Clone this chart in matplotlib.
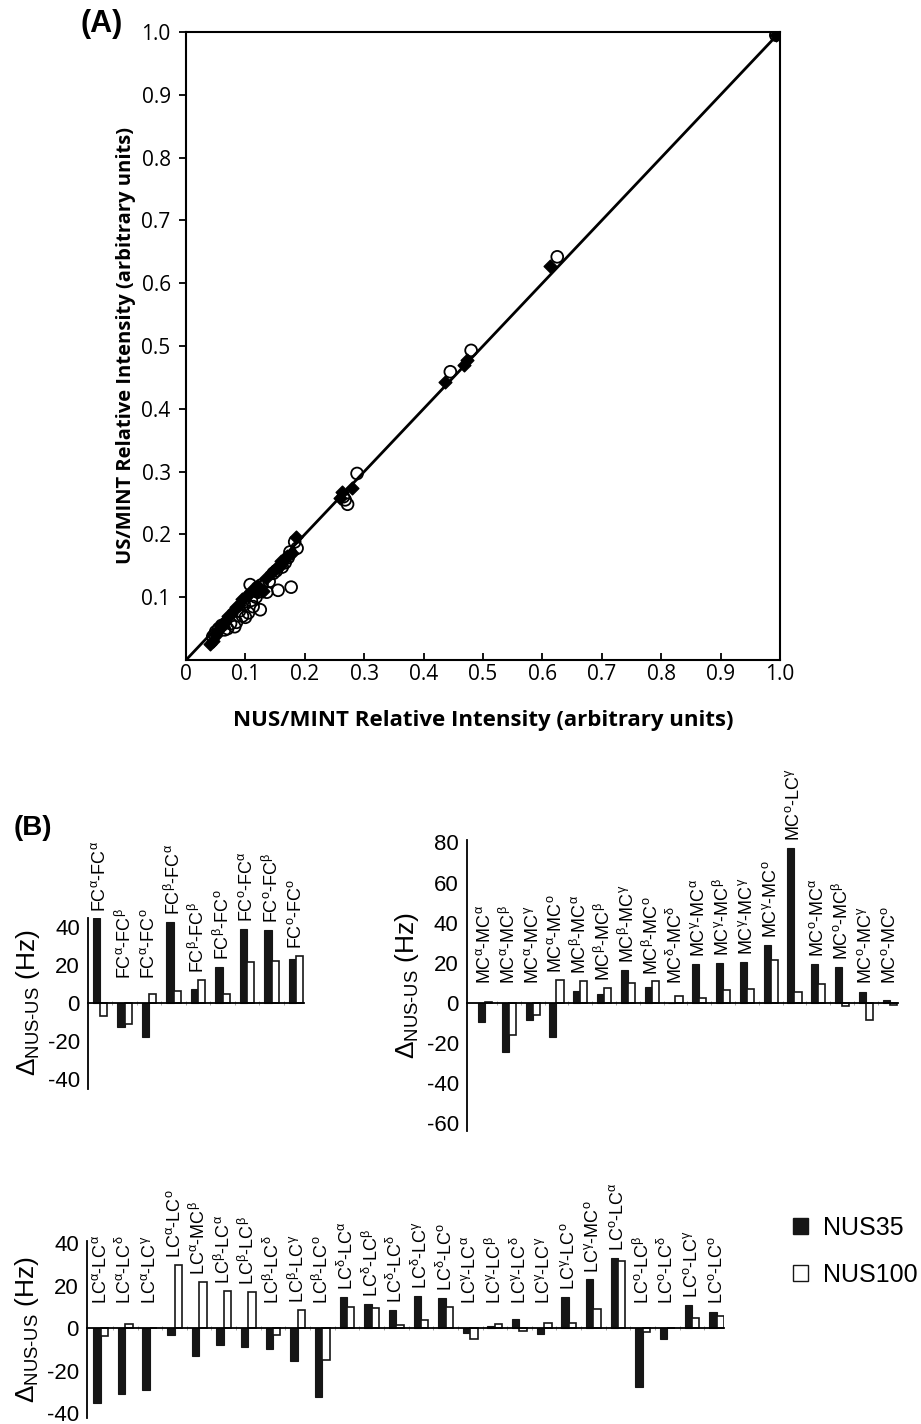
import matplotlib
matplotlib.use("Agg")
import matplotlib.pyplot as plt
from matplotlib.patches import Patch

plt.rcParams["mathtext.fontset"] = "custom"
plt.rcParams["mathtext.rm"] = "Liberation Sans"
plt.rcParams["mathtext.it"] = "Liberation Sans:italic"
plt.rcParams["mathtext.bf"] = "Liberation Sans:bold"

# ---------------- Panel A: relative intensities ----------------
# NUS35 (filled diamonds): NUS/MINT vs US/MINT
nus35_x = [0.993, 0.612, 0.473, 0.468, 0.436, 0.279, 0.263, 0.260, 0.185, 0.178,
           0.170, 0.165, 0.160, 0.158, 0.150, 0.145, 0.135, 0.130, 0.120, 0.120,
           0.115, 0.110, 0.105, 0.100, 0.095, 0.090, 0.085, 0.080, 0.075, 0.070,
           0.065, 0.060, 0.055, 0.050, 0.045, 0.040]
nus35_y = [0.995, 0.628, 0.477, 0.470, 0.443, 0.274, 0.268, 0.258, 0.196, 0.170,
           0.165, 0.160, 0.157, 0.150, 0.145, 0.140, 0.130, 0.110, 0.118, 0.108,
           0.112, 0.110, 0.104, 0.100, 0.097, 0.088, 0.085, 0.080, 0.074, 0.070,
           0.062, 0.058, 0.050, 0.040, 0.030, 0.025]
# NUS100 (open circles)
nus100_x = [0.993, 0.625, 0.480, 0.445, 0.288, 0.272, 0.268, 0.265, 0.187, 0.183,
            0.175, 0.172, 0.167, 0.162, 0.177, 0.155, 0.152, 0.147, 0.140, 0.136,
            0.128, 0.121, 0.120, 0.118, 0.113, 0.125, 0.110, 0.108, 0.105, 0.100,
            0.098, 0.095, 0.090, 0.085, 0.082, 0.075, 0.070, 0.065, 0.060, 0.055,
            0.050, 0.048, 0.045]
nus100_y = [0.995, 0.642, 0.493, 0.459, 0.297, 0.248, 0.255, 0.260, 0.178, 0.188,
            0.172, 0.163, 0.155, 0.148, 0.116, 0.111, 0.142, 0.138, 0.125, 0.108,
            0.120, 0.108, 0.115, 0.100, 0.085, 0.080, 0.095, 0.120, 0.075, 0.068,
            0.088, 0.070, 0.078, 0.060, 0.053, 0.058, 0.050, 0.048, 0.055, 0.050,
            0.045, 0.040, 0.037]

a_ticks = [0.0, 0.1, 0.2, 0.3, 0.4, 0.5, 0.6, 0.7, 0.8, 0.9, 1.0]
a_ticklabels = ["0", "0.1", "0.2", "0.3", "0.4", "0.5", "0.6", "0.7", "0.8", "0.9", "1.0"]

# ---------------- Panel B: frequency differences (Hz) ----------------
fc_pairs = ["FCα-FCα", "FCα-FCβ", "FCα-FCo", "FCβ-FCα", "FCβ-FCβ", "FCβ-FCo",
            "FCo-FCα", "FCo-FCβ", "FCo-FCo"]
fc_nus35 = [44.5, -12.5, -18, 42.5, 7.5, 19, 39, 38.5, 23]
fc_nus100 = [-7, -11, 4.5, 6.5, 12, 4.7, 21.4, 22, 25]

mc_pairs = ["MCα-MCα", "MCα-MCβ", "MCα-MCγ", "MCα-MCo", "MCβ-MCα", "MCβ-MCβ",
            "MCβ-MCγ", "MCβ-MCo", "MCδ-MCδ", "MCγ-MCα", "MCγ-MCβ", "MCγ-MCγ",
            "MCγ-MCo", "MCo-LCγ", "MCo-MCα", "MCo-MCβ", "MCo-MCγ", "MCo-MCo"]
mc_nus35 = [-9.3, -24.5, -8.5, -17, 6, 4.5, 16.6, 7.8, 0, 19.2, 20, 20.3,
            29, 77, 19.4, 18.1, 5.3, 1.4]
mc_nus100 = [0.6, -16, -5.9, 11.6, 11, 7.6, 10, 10.7, 3.4, 2.3, 6.5, 7,
             21.2, 5.5, 9.3, -1.5, -8.5, -0.8]

lc_pairs = ["LCα-LCα", "LCα-LCδ", "LCα-LCγ", "LCα-LCo", "LCα-MCβ", "LCβ-LCα",
            "LCβ-LCβ", "LCβ-LCδ", "LCβ-LCγ", "LCβ-LCo", "LCδ-LCα", "LCδ-LCβ",
            "LCδ-LCδ", "LCδ-LCγ", "LCδ-LCo", "LCγ-LCα", "LCγ-LCβ", "LCγ-LCδ",
            "LCγ-LCγ", "LCγ-LCo", "LCγ-MCo", "LCo-LCα", "LCo-LCβ", "LCo-LCδ",
            "LCo-LCγ", "LCo-LCo"]
lc_nus35 = [-35, -31, -29, -3.3, -13, -7.8, -9, -9.9, -15.2, -32.2, 14.7, 11.6,
            8.6, 15.2, 14.3, -2, 1.3, 4.2, -2.8, 14.6, 23, 33.3, -27.8, -5.2,
            11, 7.8]
lc_nus100 = [-3.6, 2, 0, 29.8, 22, 17.6, 17.3, -3.1, 8.6, -14.9, 9.9, 9.6,
             1.6, 3.9, 9.9, -5.2, 1.9, -1.1, 2.7, 2.4, 9.3, 31.8, -1.6, 0,
             5, 5.8]

series_names = ["NUS35", "NUS100"]

FIG_W, FIG_H = 921, 1424
fig = plt.figure(figsize=(FIG_W / 100, FIG_H / 100), dpi=100)


def px_axes(left, top, right, bottom):
    return fig.add_axes([left / FIG_W, 1 - bottom / FIG_H,
                         (right - left) / FIG_W, (bottom - top) / FIG_H])


# ---- Panel A ----
axA = px_axes(186, 32, 780, 660)
axA.plot([0, 1], [0, 1], color="black", lw=2.0, zorder=1)
axA.scatter(nus35_x, nus35_y, marker="D", s=42, color="black", zorder=2)
axA.scatter(nus100_x, nus100_y, marker="o", s=72, facecolors="none",
            edgecolors="black", linewidths=1.3, zorder=3)
axA.set_xlim(0, 1.0)
axA.set_ylim(0, 1.0)
axA.set_xticks(a_ticks)
axA.set_xticklabels(a_ticklabels)
axA.set_yticks(a_ticks[1:])
axA.set_yticklabels(a_ticklabels[1:])
for sp in axA.spines.values():
    sp.set_linewidth(1.5)
axA.tick_params(axis="y", direction="out", length=5, width=1.3,
                labelsize=15, pad=6)
axA.tick_params(axis="x", direction="in", length=5, width=1.3,
                labelsize=15, pad=3)
for lab in axA.get_xticklabels() + axA.get_yticklabels():
    lab.set_fontfamily("Open Sans")
axA.set_xlabel("NUS/MINT Relative Intensity (arbitrary units)",
               fontfamily="Open Sans", fontweight="bold", fontsize=16, labelpad=18)
axA.set_ylabel("US/MINT Relative Intensity (arbitrary units)",
               fontfamily="Open Sans", fontweight="bold", fontsize=14.5, labelpad=4)
fig.text(80 / FIG_W, 1 - 24 / FIG_H, "(A)", fontfamily="Liberation Sans",
         fontweight="bold", fontsize=22, va="center", ha="left")

# ---- Panel B ----
fig.text(14 / FIG_W, 1 - 828 / FIG_H, "(B)", fontfamily="Liberation Sans",
         fontweight="bold", fontsize=20, va="center", ha="left")

BLACK = "#161616"
BAR_W = 0.3


def pair_label(pair):
    parts = []
    for side in pair.split("-"):
        parts.append(side[:-1] + r"$^{\mathregular{" + side[-1] + "}}$")
    return "-".join(parts)


def bar_panel(ax, pairs, v35, v100, xlim, ylim, yticks, label_floor):
    xs = list(range(len(pairs)))
    ax.bar([x - BAR_W / 2 for x in xs], v35, width=BAR_W, color=BLACK,
           edgecolor=BLACK, linewidth=0.8, zorder=2)
    ax.bar([x + BAR_W / 2 for x in xs], v100, width=BAR_W, color="white",
           edgecolor=BLACK, linewidth=1.2, zorder=2)
    ax.set_xlim(*xlim)
    ax.set_ylim(*ylim)
    for side in ("top", "right"):
        ax.spines[side].set_visible(False)
    ax.spines["bottom"].set_position(("data", 0))
    ax.spines["bottom"].set_linewidth(1.3)
    ax.spines["left"].set_linewidth(1.3)
    ax.set_xticks([x + 0.5 for x in xs[:-1]])
    ax.set_xticklabels([])
    ax.tick_params(axis="x", direction="inout", length=3, width=0.7,
                   color="0.65")
    ax.set_yticks(yticks)
    ax.set_yticklabels([str(t) for t in yticks])
    ax.tick_params(axis="y", length=0, labelsize=16, pad=6)
    for lab in ax.get_yticklabels():
        lab.set_fontfamily("Liberation Sans")
    for x, pair, a, b in zip(xs, pairs, v35, v100):
        top = max(a, b, label_floor)
        ax.annotate(pair_label(pair), xy=(x, top), xytext=(0, 5),
                    textcoords="offset points", rotation=90, ha="center",
                    va="bottom", fontsize=13, fontfamily="Liberation Sans",
                    annotation_clip=False)
    ax.set_ylabel(r"$\Delta_{\mathregular{NUS\text{-}US}}$ (Hz)",
                  fontfamily="Liberation Sans", fontsize=19, labelpad=4)


ax1 = px_axes(88.3, 917.5, 303.5, 1088.5)
bar_panel(ax1, fc_pairs, fc_nus35, fc_nus100, (-0.48, 8.3), (-45, 45),
          [-40, -20, 0, 20, 40], 9)

ax2 = px_axes(467, 840.4, 898, 1131.4)
bar_panel(ax2, mc_pairs, mc_nus35, mc_nus100, (-0.76, 17.35), (-64, 81),
          [-60, -40, -20, 0, 20, 40, 60, 80], 6)

ax3 = px_axes(87.3, 1241.2, 724, 1417.6)
bar_panel(ax3, lc_pairs, lc_nus35, lc_nus100, (-0.54, 25.3), (-42, 41),
          [-40, -20, 0, 20, 40], 8)

handles = [Patch(facecolor=BLACK, edgecolor=BLACK, linewidth=1.0),
           Patch(facecolor="white", edgecolor=BLACK, linewidth=1.0)]
fig.legend(handles, series_names, loc="upper left",
           bbox_to_anchor=(783 / FIG_W, 1 - 1206 / FIG_H), frameon=False,
           prop={"family": "Liberation Sans", "size": 18},
           handlelength=0.6, handleheight=0.6, handletextpad=0.6,
           labelspacing=0.9, borderaxespad=0)

fig.savefig("out.png", dpi=100)
